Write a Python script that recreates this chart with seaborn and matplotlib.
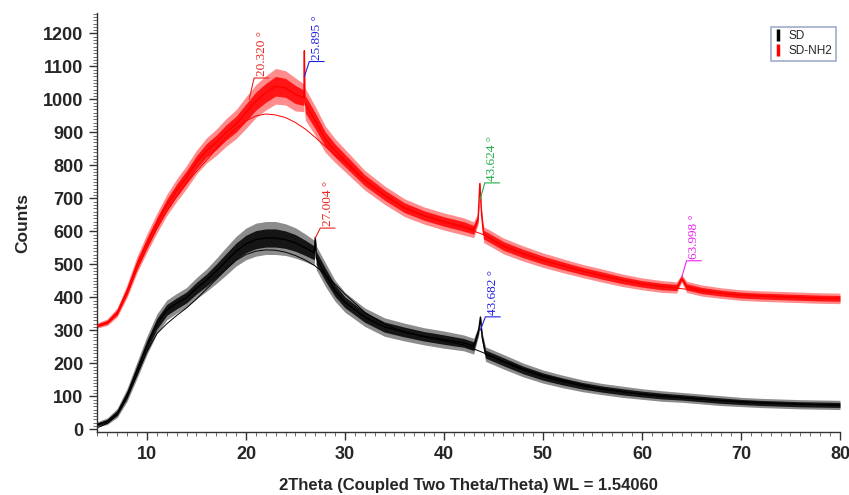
import matplotlib
matplotlib.use("Agg")
import matplotlib.pyplot as plt
from matplotlib import ticker
from matplotlib.lines import Line2D
import seaborn as sns

# SD-NH2 (red) trace: centre of the noisy band and its half-width
nh2_x = [5, 6, 7, 8, 9, 10, 11, 12, 13, 14, 15, 16, 17, 18, 19, 20, 21, 22, 23, 24, 25,
         25.85, 25.9, 25.95, 26, 27, 28, 29, 30, 32, 34, 36, 38, 40, 42,
         43, 43.45, 43.62, 43.8, 44, 44.5, 46, 48, 50, 52, 54, 56, 58, 60, 62,
         63.5, 64, 64.5, 66, 68, 70, 72, 74, 76, 78, 80]
nh2_y = [315, 325, 355, 420, 500, 565, 625, 680, 725, 765, 810, 845, 870, 900, 925, 960, 995, 1020, 1040, 1035, 1015,
         1005, 1148, 995, 985, 935, 880, 845, 815, 755, 710, 672, 648, 630, 615,
         605, 640, 745, 650, 590, 582, 556, 533, 513, 496, 480, 466, 452, 441, 433,
         430, 458, 432, 421, 413, 407, 404, 402, 400, 398, 397]
nh2_w = [8, 10, 14, 20, 25, 28, 30, 32, 34, 35, 36, 38, 40, 42, 44, 48, 50, 52, 54, 52, 50,
         42, 5, 42, 48, 44, 40, 36, 34, 30, 28, 27, 26, 26, 26,
         24, 18, 10, 18, 24, 24, 24, 23, 22, 21, 20, 20, 19, 18, 18,
         17, 12, 17, 17, 16, 16, 16, 16, 16, 16, 16]

# SD (black) trace
sd_x = [5, 6, 7, 8, 9, 10, 11, 12, 13, 14, 15, 16, 17, 18, 19, 20, 21, 22, 23, 24, 25, 26,
        26.9, 27.0, 27.1, 28, 29, 30, 32, 34, 36, 38, 40, 42,
        43, 43.5, 43.68, 43.85, 44.2, 46, 48, 50, 52, 54, 56, 58, 60, 62, 64, 66, 68, 70, 72, 74, 76, 78, 80]
sd_y = [15, 25, 50, 105, 180, 255, 320, 362, 382, 400, 428, 452, 480, 510, 540, 562, 575, 580, 580, 575, 565, 550,
        535, 582, 520, 470, 420, 385, 340, 310, 295, 282, 272, 262,
        252, 300, 340, 280, 228, 205, 180, 160, 145, 132, 122, 114, 107, 101, 97, 92, 87, 83, 80, 78, 76, 75, 74]
sd_w = [8, 10, 14, 20, 25, 28, 30, 30, 30, 30, 32, 34, 38, 42, 45, 48, 50, 50, 50, 48, 46, 42,
        38, 5, 36, 36, 32, 30, 28, 28, 27, 26, 26, 24,
        24, 15, 8, 15, 22, 22, 21, 20, 19, 18, 17, 17, 16, 16, 15, 15, 15, 14, 14, 14, 14, 14, 14]

# fitted backgrounds (thin lines)
bg_x = [5, 6, 7, 8, 9, 10, 11, 12, 13, 14, 15, 16, 17, 18, 19, 20, 21, 22, 23, 24, 25, 26, 27, 28, 29, 30,
        32, 34, 36, 38, 40, 42, 44, 46, 48, 50, 55, 60, 65, 70, 75, 80]
nh2_bg = [312, 322, 348, 410, 485, 550, 610, 660, 705, 745, 782, 815, 850, 885, 912, 935, 950, 956, 953, 945, 930,
          910, 885, 858, 832, 810, 752, 708, 670, 646, 628, 612, 590, 554, 531, 511, 472, 440, 423, 406, 400, 396]
sd_bg = [5, 18, 45, 100, 165, 235, 290, 320, 345, 368, 395, 425, 455, 485, 512, 530, 540, 544, 543, 537, 527,
         513, 495, 470, 440, 410, 355, 318, 295, 280, 268, 256, 232, 207, 184, 164, 128, 106, 93, 84, 78, 73]

# peak markers
peak_x = [20.320, 25.895, 27.004, 43.624, 43.682, 63.998]
peak_y = [1000, 1069, 580, 695, 301, 459]
label_y = [1065, 1115, 610, 747, 341, 511]
peak_labels = ["20.320 \u00b0", "25.895 \u00b0", "27.004 \u00b0", "43.624 \u00b0", "43.682 \u00b0", "63.998 \u00b0"]
peak_colors = ["#e8251f", "#1f1fe6", "#e8251f", "#1fae4b", "#1f1fe6", "#f020f0"]

sns.set_style("ticks")
plt.rcParams["font.family"] = ["Liberation Sans", "DejaVu Sans"]

fig = plt.figure(figsize=(8.49, 4.95), dpi=100)
ax = fig.add_axes([0.1148, 0.1273, 0.8746, 0.8464])

for xs, bg, col in [(bg_x, nh2_bg, "#ff0000"), (bg_x, sd_bg, "#000000")]:
    sns.lineplot(x=xs, y=bg, ax=ax, color=col, lw=0.7, zorder=1)

for xs, ys, ws, col in [(nh2_x, nh2_y, nh2_w, "#ff0000"), (sd_x, sd_y, sd_w, "#000000")]:
    # pale outer spread, denser core
    ax.fill_between(xs, [y - w for y, w in zip(ys, ws)], [y + w for y, w in zip(ys, ws)],
                    color=col, alpha=0.45, lw=0, zorder=2)
    ax.fill_between(xs, [y - 0.55 * w for y, w in zip(ys, ws)], [y + 0.55 * w for y, w in zip(ys, ws)],
                    color=col, alpha=0.85, lw=0, zorder=2)
    sns.lineplot(x=xs, y=ys, ax=ax, color=col, lw=1.0, zorder=3)

for px, py, ly, lab, col in zip(peak_x, peak_y, label_y, peak_labels, peak_colors):
    ax.plot([px, px + 0.5, px + 2.0], [py, ly, ly], color=col, lw=0.8, zorder=4)
    ax.text(px + 1.25, ly + 6, lab, rotation=90, ha="center", va="bottom",
            color=col, fontsize=9.5, family=["Liberation Serif", "DejaVu Serif"], zorder=5)

ax.set_xlim(5, 80)
ax.set_ylim(-8, 1262)
ax.xaxis.set_major_locator(ticker.MultipleLocator(10))
ax.xaxis.set_minor_locator(ticker.MultipleLocator(1))
ax.yaxis.set_major_locator(ticker.MultipleLocator(100))
ax.yaxis.set_minor_locator(ticker.MultipleLocator(10))
ax.tick_params(which="major", direction="out", length=6, width=1, labelsize=13, pad=4, color="#333333")
ax.tick_params(which="minor", direction="out", length=3, width=0.6, color="#555555")
for lbl in ax.get_xticklabels() + ax.get_yticklabels():
    lbl.set_fontweight("bold")

sns.despine(ax=ax)
for s in ["left", "bottom"]:
    ax.spines[s].set_color("#333333")
    ax.spines[s].set_linewidth(1.0)

ax.set_xlabel("2Theta (Coupled Two Theta/Theta) WL = 1.54060", fontsize=12, fontweight="bold", labelpad=11)
ax.set_ylabel("Counts", fontsize=12.5, fontweight="bold", labelpad=9)

handles = [Line2D([], [], color="black", marker="|", ls="none", markersize=9, mew=2.5),
           Line2D([], [], color="red", marker="|", ls="none", markersize=9, mew=2.5)]
leg = ax.legend(handles, ["SD", "SD-NH2"], loc="upper right", bbox_to_anchor=(0.995, 0.967),
                borderaxespad=0, fontsize=8.5, handlelength=0.6, handletextpad=0.6,
                borderpad=0.3, labelspacing=0.25, fancybox=False, framealpha=1)
leg.get_frame().set_edgecolor("#a0acc8")
leg.get_frame().set_linewidth(1.2)

fig.savefig("out.png", dpi=100)
